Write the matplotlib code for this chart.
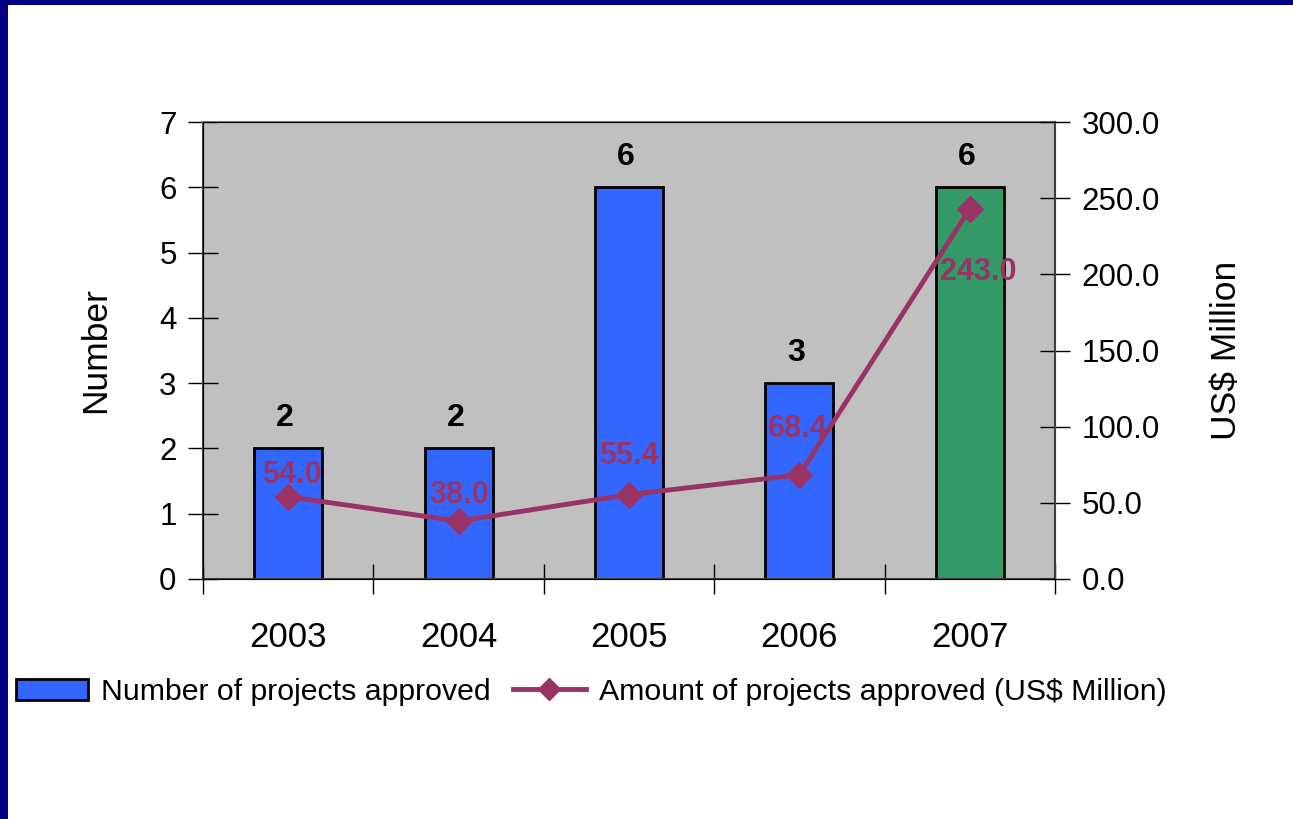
import numpy as np
import matplotlib
matplotlib.use('Agg')
import matplotlib.pyplot as plt
from matplotlib.patches import Rectangle
from matplotlib.lines import Line2D

# Datos
anios = ['2003', '2004', '2005', '2006', '2007']
num_proyectos = [2, 2, 6, 3, 6]
monto_proyectos = [54.0, 38.0, 55.4, 68.4, 243.0]

plt.rcParams['font.family'] = ['Liberation Sans', 'DejaVu Sans']

AZUL = '#3366FF'
VERDE = '#339966'
LINEA = '#993366'
GRIS = '#C0C0C0'
NAVY = '#000080'

fig = plt.figure(figsize=(12.93, 8.19), dpi=100)
fig.patch.set_facecolor('white')

# Borde azul de la diapositiva
fig.patches.append(Rectangle((0, 1 - 5 / 819), 1, 5 / 819, transform=fig.transFigure,
                             facecolor=NAVY, edgecolor='none', zorder=0))
fig.patches.append(Rectangle((0, 0), 8 / 1293, 1, transform=fig.transFigure,
                             facecolor=NAVY, edgecolor='none', zorder=0))

ax = fig.add_axes([203 / 1293, 1 - 579 / 819, 852 / 1293, 457 / 819])
ax.set_facecolor(GRIS)

x = np.arange(len(anios))
colores = [AZUL, AZUL, AZUL, AZUL, VERDE]
ax.bar(x, num_proyectos, width=0.4, color=colores, edgecolor='black', linewidth=2, zorder=2)
ax.set_xlim(-0.5, len(anios) - 0.5)
ax.set_ylim(0, 7)
ax.set_yticks(range(0, 8))

# Ticks del eje x en los límites de categoría, etiquetas centradas
ax.set_xticks(np.arange(-0.5, len(anios), 1.0))
ax.set_xticklabels([])
ax.set_xticks(x, minor=True)
ax.set_xticklabels(anios, minor=True)
ax.tick_params(axis='x', which='major', direction='inout', length=22, width=1, color='black')
ax.tick_params(axis='x', which='minor', length=0, pad=30, labelsize=25)
ax.tick_params(axis='y', direction='inout', length=22, width=1, color='black', pad=8, labelsize=22.5)

for lado in ['top', 'right']:
    ax.spines[lado].set_color('#808080')
ax.spines['left'].set_color('#404040')
ax.spines['bottom'].set_color('#404040')
for s in ax.spines.values():
    s.set_linewidth(1.5)

ax.set_ylabel('Number', fontsize=25.5, labelpad=34)

for xi, v in zip(x, num_proyectos):
    ax.annotate(str(v), (xi, v), xytext=(-3, 30), textcoords='offset pixels',
                ha='center', va='center', fontsize=23, fontweight='bold', color='black', zorder=5)

ax2 = ax.twinx()
ax2.plot(x, monto_proyectos, color=LINEA, linewidth=3.5, marker='D', markersize=13,
         markerfacecolor=LINEA, markeredgecolor=LINEA, zorder=3)
ax2.set_ylim(0, 300)
ax2.set_yticks(np.arange(0, 301, 50))
ax2.set_yticklabels([f'{v:.1f}' for v in np.arange(0, 301, 50)])
ax2.tick_params(axis='y', direction='inout', length=22, width=1, color='black', pad=8, labelsize=22.5)
ax2.spines['right'].set_color('#404040')
ax2.spines['right'].set_linewidth(1.5)
ax2.set_ylabel('US$ Million', fontsize=25.5, labelpad=36)

offsets = [(4, 22), (1, 26), (0, 39), (-2, 46), (8, -63)]
for xi, v, off in zip(x, monto_proyectos, offsets):
    ax2.annotate(f'{v:.1f}', (xi, v), xytext=off, textcoords='offset pixels',
                 ha='center', va='center', fontsize=22, fontweight='bold', color=LINEA, zorder=5)

handles = [Rectangle((0, 0), 1, 1, facecolor=AZUL, edgecolor='black', linewidth=2),
           Line2D([], [], color=LINEA, linewidth=3.5, marker='D', markersize=11)]
fig.legend(handles, ['Number of projects approved', 'Amount of projects approved (US$ Million)'],
           loc='center', bbox_to_anchor=(591 / 1293, 1 - 692 / 819), ncol=2, frameon=False,
           fontsize=21.8, handlelength=2.4, handletextpad=0.43, columnspacing=0.72)

fig.savefig('out.png', dpi=100)
